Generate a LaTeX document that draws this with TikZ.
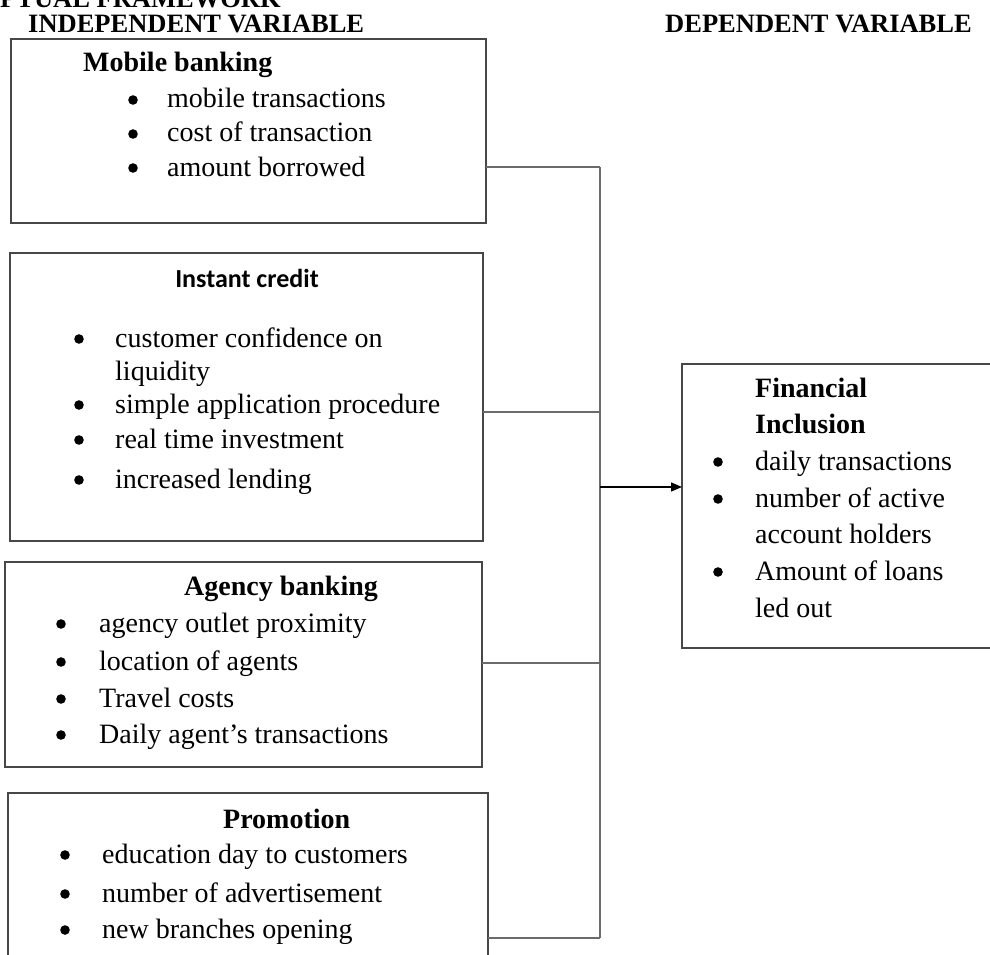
\documentclass[tikz,border=0pt]{standalone}
\usepackage{fontspec}
\setmainfont{Liberation Serif}
\newfontfamily\calfont{Carlito}
\usetikzlibrary{arrows.meta}
\begin{document}
\begin{tikzpicture}[x=1pt,y=-1pt,
 box/.style={draw=black!72, line width=1.6pt, rectangle, inner sep=0pt, outer sep=0pt, anchor=north west},
 conn/.style={draw=black!58, line width=1.6pt},
 arr/.style={draw=black, line width=1.4pt, -{Triangle[length=11pt,width=9pt]}},
 item/.style={anchor=base west, inner sep=0pt, font=\fontsize{28}{32}\selectfont},
 head/.style={anchor=base west, inner sep=0pt, font=\fontsize{28}{32}\selectfont\bfseries},
 sanshead/.style={anchor=base, inner sep=0pt, font=\fontsize{26}{30}\selectfont\calfont\bfseries},
 ttl/.style={anchor=base west, inner sep=0pt, font=\fontsize{26.5}{30}\selectfont\bfseries},
 bul/.style={fill=black}]
\useasboundingbox (0,0) rectangle (990,955);
\clip (0,0) rectangle (990,955);

% titles
\node[ttl] (t0) at (0,8) {PTUAL FRAMEWORK};
\node[ttl] (t1) at (28,33) {INDEPENDENT VARIABLE};
\node[ttl] (t2) at (665,33) {DEPENDENT VARIABLE};

% boxes
\node[box, minimum width=475pt, minimum height=184pt] (mob) at (11,39) {};
\node[box, minimum width=473pt, minimum height=288pt] (ins) at (10,253) {};
\node[box, minimum width=477pt, minimum height=205pt] (age) at (5,562) {};
\node[box, minimum width=480pt, minimum height=185pt] (pro) at (8,793) {};
\node[box, minimum width=320pt, minimum height=284pt] (fin) at (682,364) {};

% Mobile banking
\node[head] (mh) at (83,72) {Mobile banking};
\node[item] (m1) at (167,108) {mobile transactions};
\node[item] (m2) at (167,142) {cost of transaction};
\node[item] (m3) at (167,176) {amount borrowed};
\foreach \yy in {108,142,176} \fill[bul] (133,\yy-8) circle (4.8);

% Instant credit
\node[sanshead] (ih) at (247,287) {Instant credit};
\node[item] (i1) at (115,347) {customer confidence on};
\node[item] (i1b) at (115,380) {liquidity};
\node[item] (i2) at (115,413) {simple application procedure};
\node[item] (i3) at (115,448) {real time investment};
\node[item] (i4) at (115,488) {increased lending};
\foreach \yy in {347,413,448,488} \fill[bul] (79,\yy-8) circle (4.8);

% Agency banking
\node[head] (ah) at (184,595) {Agency banking};
\node[item] (a1) at (99,632) {agency outlet proximity};
\node[item] (a2) at (99,670) {location of agents};
\node[item] (a3) at (99,707) {Travel costs};
\node[item] (a4) at (99,743) {Daily agent’s transactions};
\foreach \yy in {632,670,707,743} \fill[bul] (61,\yy-8) circle (4.8);

% Promotion
\node[head] (ph) at (223,828) {Promotion};
\node[item] (p1) at (102,863) {education day to customers};
\node[item] (p2) at (102,902) {number of advertisement};
\node[item] (p3) at (102,938) {new branches opening};
\foreach \yy in {863,902,938} \fill[bul] (65,\yy-8) circle (4.8);

% Financial Inclusion
\node[head] (fh1) at (755,397) {Financial};
\node[head] (fh2) at (755,433) {Inclusion};
\node[item] (f1) at (755,470) {daily transactions};
\node[item] (f2) at (755,507) {number of active};
\node[item] (f2b) at (755,543) {account holders};
\node[item] (f3) at (755,580) {Amount of loans};
\node[item] (f3b) at (755,617) {led out};
\foreach \yy in {470,507,580} \fill[bul] (718,\yy-8) circle (4.8);

% connectors
\coordinate (jm) at (600,167);
\coordinate (ji) at (600,412);
\coordinate (ja) at (600,663);
\coordinate (jp) at (600,938);
\coordinate (jo) at (600,487);
\draw[conn] (mob.east |- jm) -- (jm);
\draw[conn] (ins.east |- ji) -- (ji);
\draw[conn] (age.east |- ja) -- (ja);
\draw[conn] (pro.east |- jp) -- (jp);
\draw[conn] (jm) -- (jp);
\draw[arr] (jo) -- (fin.west |- jo);
\end{tikzpicture}
\end{document}
